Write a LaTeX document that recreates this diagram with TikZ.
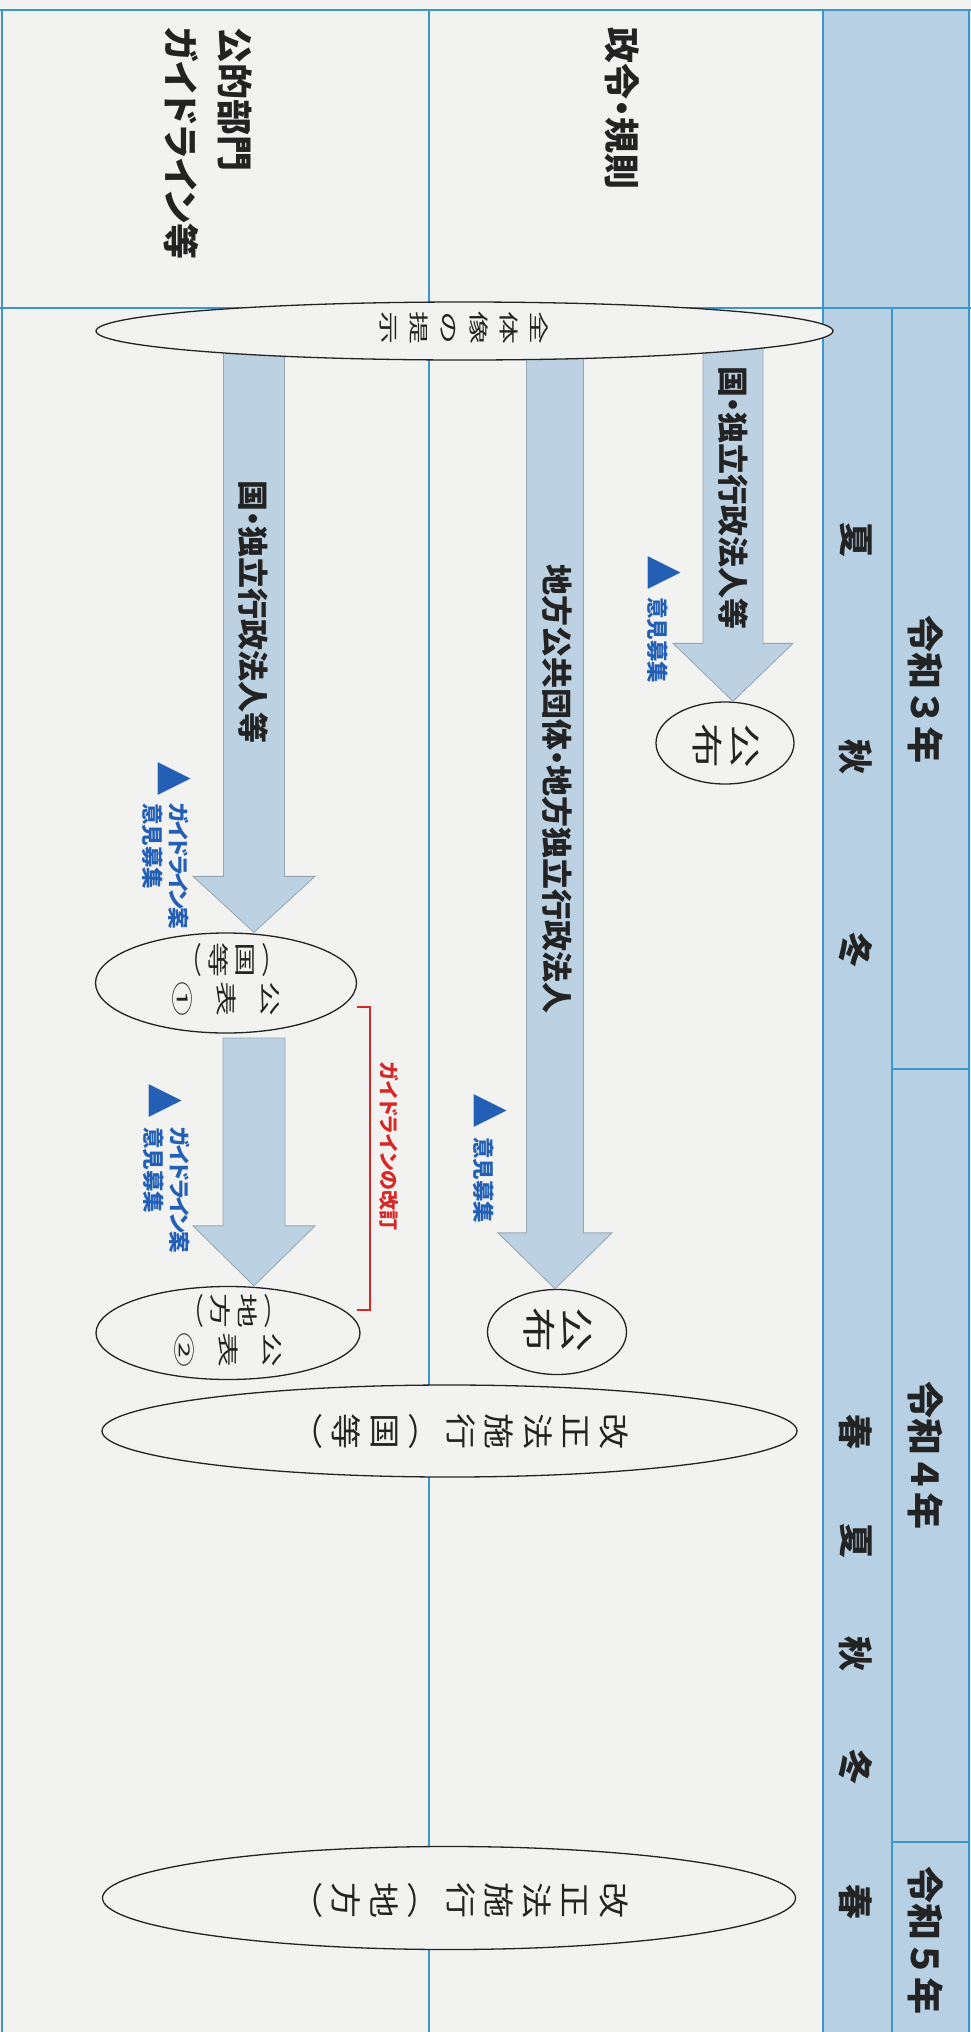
\documentclass[tikz,border=0pt]{standalone}
\usepackage{fontspec}
\usetikzlibrary{shapes.geometric,calc}
\newfontfamily\jp[RawFeature=+palt]{Noto Sans CJK JP}
\newfontfamily\jpt{Noto Sans CJK JP}
\newfontfamily\sym{DejaVu Sans}
\definecolor{cPaper}{RGB}{242,242,240}
\definecolor{cHdr}{RGB}{183,208,227}
\definecolor{cGrid}{RGB}{58,150,205}
\definecolor{cArr}{RGB}{188,210,226}
\definecolor{cArrD}{RGB}{150,165,178}
\definecolor{cBlue}{RGB}{35,95,180}
\definecolor{cRed}{RGB}{215,40,40}
\definecolor{cInk}{RGB}{35,35,35}
\makeatletter
% vertical (tategaki) column: #1 pitch, #2 text
\newcommand\Tate[2]{\vtop{\baselineskip=#1\lineskiplimit=-\maxdimen\lineskip=0pt\@tfor\Tt@c:=#2\do{\hbox to 1em{\hss\Tt@c\hss}}}}
\makeatother
% two vertical columns centred on each other: #1 gap, #2/#3 pitch/text left, #4/#5 pitch/text right
\newcommand\TwoTate[5]{$\vcenter{\Tate{#2}{#3}}\hskip#1\vcenter{\Tate{#4}{#5}}$}
\newcommand\blockarrow[5]{\draw[arr] ($(#1)+(-#3,0)$) -- ($(#2)+(-#3,-#5)$) -- ($(#2)+(-#4,-#5)$) -- (#2) -- ($(#2)+(#4,-#5)$) -- ($(#2)+(#3,-#5)$) -- ($(#1)+(#3,0)$) -- cycle;}
\tikzset{
  gridthin/.style={draw=cGrid, line width=1.4pt},
  gridthick/.style={draw=cGrid, line width=2.6pt},
  arr/.style={fill=cArr, draw=cArrD, line width=0.8pt, line join=miter},
  ell/.style={shape=ellipse, draw=cInk, line width=1.3pt, fill=cPaper, inner sep=0pt},
  lbl/.style={rotate=-90, inner sep=0pt, text=cInk},
  tate/.style={rotate=-90, inner sep=0pt, text=cInk, font=\jpt\fontsize{#1}{#1}\selectfont},
  rowlbl/.style={lbl, anchor=west, align=left, font=\jp\bfseries\fontsize{36}{54}\selectfont},
  yearlbl/.style={lbl, font=\jpt\bfseries\fontsize{37}{37}\selectfont},
  seasonlbl/.style={lbl, font=\jp\bfseries\fontsize{35}{35}\selectfont},
  arrlbl/.style={lbl, font=\jp\bfseries\fontsize{31}{31}\selectfont},
  tri/.style={lbl, text=cBlue, font=\sym\fontsize{43}{43}\selectfont},
  note/.style={lbl, anchor=west, align=left, text=cBlue, font=\jp\bfseries\fontsize{21.5}{26}\selectfont},
  rednote/.style={lbl, text=cRed, font=\jp\bfseries\fontsize{20}{20}\selectfont},
  bracket/.style={draw=cRed, line width=1.4pt}
}
\newcommand\kana[1]{{\addfontfeature{LetterSpace=-10}#1}}
\begin{document}
\begin{tikzpicture}[x=1pt,y=-1pt]
\fill[cPaper] (0,0) rectangle (971,2032);
\useasboundingbox (0,0) rectangle (971,2032);
% header band
\fill[cHdr] (823,10) rectangle (969,2032);
% grid
\draw[gridthin] (2,10) -- (2,2032);
\draw[gridthin] (429,10) -- (429,2032);
\draw[gridthin] (823,10) -- (823,2032);
\draw[gridthin] (969,10) -- (969,2032);
\draw[gridthin] (892,308) -- (892,2032);
\draw[gridthin] (892,1069) -- (969,1069);
\draw[gridthin] (892,1842) -- (969,1842);
\draw[gridthick] (0,10) -- (971,10);
\draw[gridthick] (0,308) -- (971,308);
% row labels
\node[rowlbl] (rowA) at (622,27) {政令・規則};
\node[rowlbl] (rowB) at (208,27) {公的部門\\ガイドライン等};
% years and seasons
\node[yearlbl] (y3) at (926,689) {令和３年};
\node[yearlbl] (y4) at (926,1455) {令和４年};
\node[yearlbl] (y5) at (926,1940) {令和５年};
\node[seasonlbl] (s1) at (856,540) {夏};
\node[seasonlbl] (s2) at (856,757) {秋};
\node[seasonlbl] (s3) at (856,950) {冬};
\node[seasonlbl] (s4) at (856,1432) {春};
\node[seasonlbl] (s5) at (856,1541) {夏};
\node[seasonlbl] (s6) at (856,1654) {秋};
\node[seasonlbl] (s7) at (856,1767) {冬};
\node[seasonlbl] (s8) at (856,1902) {春};
% arrow anchors and target ellipses
\coordinate (aTop) at (733,331);
\coordinate (bTop) at (555,331);
\coordinate (cTop) at (254,331);
\coordinate (dTop) at (254,1038);
\node[ell, minimum width=138pt, minimum height=82pt] (pubA) at (725,743) {};
\node[ell, minimum width=139pt, minimum height=85pt] (pubB) at (557,1332) {};
\node[ell, minimum width=261pt, minimum height=100pt] (kohyo1) at (226,983) {};
\node[ell, minimum width=264pt, minimum height=93pt] (kohyo2) at (228,1333) {};
\coordinate (aTip) at (aTop |- pubA.north);
\coordinate (bTip) at (bTop |- pubB.north);
\coordinate (cTip) at (cTop |- kohyo1.north);
\coordinate (dTip) at (dTop |- kohyo2.north);
% arrows
\blockarrow{aTop}{aTip}{30}{60}{58}
\blockarrow{bTop}{bTip}{28.5}{57}{56}
\blockarrow{cTop}{cTip}{30.5}{61}{56}
\blockarrow{dTop}{dTip}{31}{61}{60}
% big ellipses
\node[ell, minimum width=737pt, minimum height=58pt] (allimg) at (464.5,331) {};
\node[ell, minimum width=695pt, minimum height=92pt] (shikoA) at (449.5,1431) {};
\node[ell, minimum width=693pt, minimum height=103pt] (shikoB) at (449,1898) {};
% texts in ellipses (vertical writing, turned)
\node[tate=33, yscale=0.6] (tAll) at ($(allimg)+(0,-3)$) {\Tate{50pt}{全体像の提示}};
\node[tate=45, yscale=0.7] (tPubA) at ($(pubA)+(1,3)$) {\Tate{55pt}{公布}};
\node[tate=45, yscale=0.75] (tPubB) at ($(pubB)+(1,-2)$) {\Tate{50.7pt}{公布}};
\node[tate=35, yscale=0.6] (tK1) at ($(kohyo1)+(0,-4)$) {\TwoTate{4pt}{45pt}{︵国等︶}{73.3pt}{公表①}};
\node[tate=35, yscale=0.6] (tK2) at ($(kohyo2)+(0,-3)$) {\TwoTate{4pt}{45pt}{︵地方︶}{73.3pt}{公表②}};
\node[tate=36, yscale=0.85] (tShA) at ($(shikoA)+(13,0)$) {\Tate{45pt}{改正法施行︵国等︶}};
\node[tate=36, yscale=0.85] (tShB) at ($(shikoB)+(13,2)$) {\Tate{45pt}{改正法施行︵地方︶}};
% arrow labels
\node[arrlbl] (labA) at (733,498) {国・独立行政法人等};
\node[arrlbl] (labB) at (557,789) {地方公共団体・地方独立行政法人};
\node[arrlbl] (labC) at (253,612) {国・独立行政法人等};
% blue notes
\node[tri] (triA) at (665,573) {▲};
\node[note] (noteA) at (658,597) {意見募集};
\node[tri] (triB) at (491,1111) {▲};
\node[note] (noteB) at (484,1137) {意見募集};
\node[tri] (triC) at (175,779) {▲};
\node[note] (noteC) at (166,803) {\kana{ガイドライン案}\\意見募集};
\node[tri] (triD) at (166,1101) {▲};
\node[note] (noteD) at (167,1127) {\kana{ガイドライン案}\\意見募集};
% red bracket
\coordinate (brA) at (357,1007);
\coordinate (brB) at (357,1310);
\draw[bracket] (brA) -- ++(13,0) |- (brB);
\node[rednote] (revise) at (389,1146) {ガイドラインの改訂};
\end{tikzpicture}
\end{document}
